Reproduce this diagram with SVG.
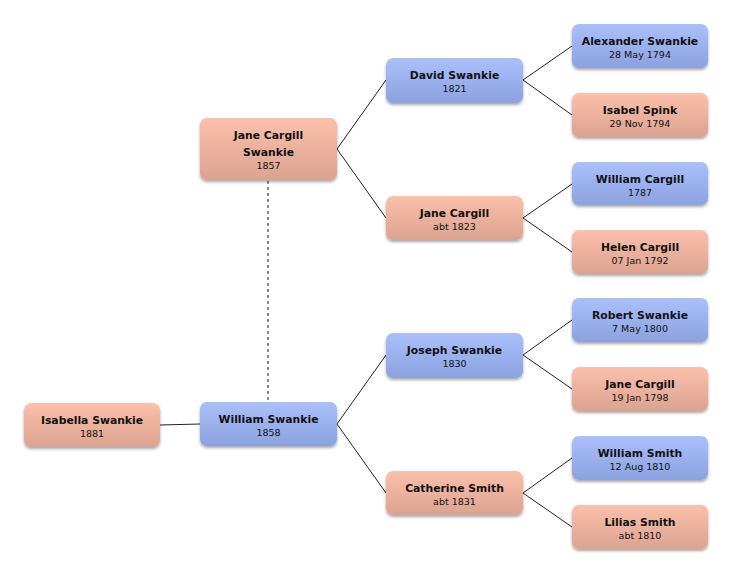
<svg xmlns="http://www.w3.org/2000/svg" width="732" height="574" viewBox="0 0 732 574">
<defs>
<linearGradient id="gF" x1="0" y1="0" x2="0" y2="1">
<stop offset="0" stop-color="#fcc0ab"/>
<stop offset="1" stop-color="#dba391"/>
</linearGradient>
<linearGradient id="gM" x1="0" y1="0" x2="0" y2="1">
<stop offset="0" stop-color="#abc0fb"/>
<stop offset="1" stop-color="#8ba2df"/>
</linearGradient>
<filter id="sh" x="-10%" y="-20%" width="120%" height="150%">
<feGaussianBlur in="SourceAlpha" stdDeviation="1.5"/>
<feOffset dx="0" dy="2" result="b"/>
<feComponentTransfer><feFuncA type="linear" slope="0.35"/></feComponentTransfer>
<feMerge><feMergeNode/><feMergeNode in="SourceGraphic"/></feMerge>
</filter>
</defs>
<style>
.f{fill:url(#gF);filter:url(#sh);}
.m{fill:url(#gM);filter:url(#sh);}
.n{font-family:"DejaVu Sans",sans-serif;font-weight:bold;font-size:10.8px;fill:#111;text-anchor:middle;}
.d{font-family:"DejaVu Sans",sans-serif;font-size:9.5px;fill:#111;text-anchor:middle;}
.c{stroke:#222;stroke-width:1;fill:none;}
.ds{stroke:#666;stroke-width:1.5;stroke-dasharray:3 3;fill:none;}
</style>
<g id="connectors">
<line class="ds" x1="268" y1="181" x2="268" y2="402"/>
<line class="c" x1="160" y1="425" x2="200" y2="424"/>
<polyline class="c" points="386,80 337,149 386,218"/>
<polyline class="c" points="386,355 337,424 386,493"/>
<polyline class="c" points="572,46 523,80 572,115"/>
<polyline class="c" points="572,184 523,218 572,252"/>
<polyline class="c" points="572,320 523,355 572,389"/>
<polyline class="c" points="572,458 523,493 572,527"/>
</g>
<g id="isabella-swankie">
<rect class="f" x="24" y="403" width="136" height="44" rx="7"/>
<text class="n" x="92" y="424">Isabella Swankie</text>
<text class="d" x="92" y="436.5">1881</text>
</g>
<g id="william-swankie">
<rect class="m" x="200" y="402" width="137" height="44" rx="7"/>
<text class="n" x="268.5" y="423">William Swankie</text>
<text class="d" x="268.5" y="435.5">1858</text>
</g>
<g id="jane-cargill-swankie">
<rect class="f" x="200" y="118" width="137" height="62" rx="7"/>
<text class="n" x="268.5" y="139">Jane Cargill</text>
<text class="n" x="268.5" y="156">Swankie</text>
<text class="d" x="268.5" y="169">1857</text>
</g>
<g id="david-swankie">
<rect class="m" x="386" y="58" width="137" height="45" rx="7"/>
<text class="n" x="454.5" y="79">David Swankie</text>
<text class="d" x="454.5" y="92">1821</text>
</g>
<g id="jane-cargill-1823">
<rect class="f" x="386" y="196" width="137" height="44" rx="7"/>
<text class="n" x="454.5" y="217">Jane Cargill</text>
<text class="d" x="454.5" y="230">abt 1823</text>
</g>
<g id="joseph-swankie">
<rect class="m" x="386" y="333" width="137" height="45" rx="7"/>
<text class="n" x="454.5" y="354">Joseph Swankie</text>
<text class="d" x="454.5" y="367">1830</text>
</g>
<g id="catherine-smith">
<rect class="f" x="386" y="471" width="137" height="44" rx="7"/>
<text class="n" x="454.5" y="492">Catherine Smith</text>
<text class="d" x="454.5" y="505">abt 1831</text>
</g>
<g id="alexander-swankie">
<rect class="m" x="572" y="24" width="136" height="44" rx="7"/>
<text class="n" x="640" y="45">Alexander Swankie</text>
<text class="d" x="640" y="57.5">28 May 1794</text>
</g>
<g id="isabel-spink">
<rect class="f" x="572" y="93" width="136" height="44" rx="7"/>
<text class="n" x="640" y="114">Isabel Spink</text>
<text class="d" x="640" y="126.5">29 Nov 1794</text>
</g>
<g id="william-cargill">
<rect class="m" x="572" y="162" width="136" height="43" rx="7"/>
<text class="n" x="640" y="183">William Cargill</text>
<text class="d" x="640" y="195.5">1787</text>
</g>
<g id="helen-cargill">
<rect class="f" x="572" y="230" width="136" height="44" rx="7"/>
<text class="n" x="640" y="251">Helen Cargill</text>
<text class="d" x="640" y="263.5">07 Jan 1792</text>
</g>
<g id="robert-swankie">
<rect class="m" x="572" y="298" width="136" height="44" rx="7"/>
<text class="n" x="640" y="319">Robert Swankie</text>
<text class="d" x="640" y="331.5">7 May 1800</text>
</g>
<g id="jane-cargill-1798">
<rect class="f" x="572" y="367" width="136" height="44" rx="7"/>
<text class="n" x="640" y="388">Jane Cargill</text>
<text class="d" x="640" y="400.5">19 Jan 1798</text>
</g>
<g id="william-smith">
<rect class="m" x="572" y="436" width="136" height="44" rx="7"/>
<text class="n" x="640" y="457">William Smith</text>
<text class="d" x="640" y="469.5">12 Aug 1810</text>
</g>
<g id="lilias-smith">
<rect class="f" x="572" y="505" width="136" height="44" rx="7"/>
<text class="n" x="640" y="526">Lilias Smith</text>
<text class="d" x="640" y="538.5">abt 1810</text>
</g>
</svg>
